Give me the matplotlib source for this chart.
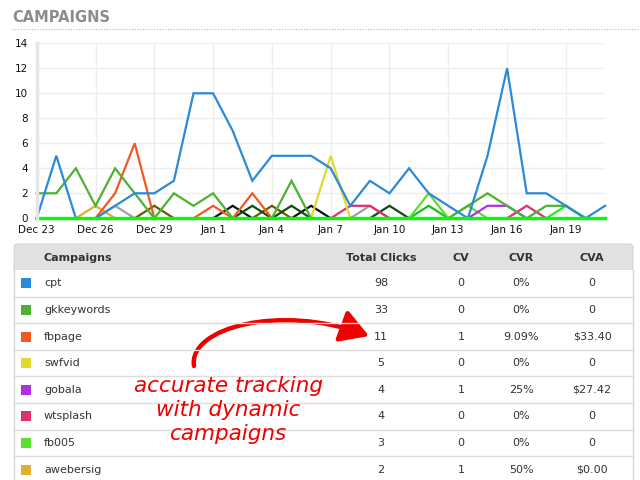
import matplotlib
matplotlib.use("Agg")
import matplotlib.pyplot as plt
from matplotlib.patches import FancyBboxPatch, Rectangle, FancyArrowPatch
from matplotlib.path import Path

# ---------------- data ----------------
days = list(range(30))  # Dec 23 .. Jan 21
tick_days = [0, 3, 6, 9, 12, 15, 18, 21, 24, 27]
tick_labels = ["Dec 23", "Dec 26", "Dec 29", "Jan 1", "Jan 4", "Jan 7",
               "Jan 10", "Jan 13", "Jan 16", "Jan 19"]
y_ticks = [0, 2, 4, 6, 8, 10, 12, 14]

cpt        = [0,5,0,0,1,2,2,3,10,10,7,3,5,5,5,4,1,3,2,4,2,1,0,5,12,2,2,1,0,1]
gkkeywords = [2,2,4,1,4,2,0,2,1,2,0,0,0,3,0,0,0,0,0,0,0,0,1,2,1,0,1,1,0,0]
fbpage     = [0,0,0,0,2,6,0,0,0,1,0,2,0,0,0,0,0,0,0,0,0,0,0,0,0,0,0,0,0,0]
swfvid     = [0,0,0,0,0,0,0,0,0,0,0,0,0,0,0,5,0,0,0,0,0,0,0,0,0,0,0,0,0,0]
gobala     = [0,0,0,0,0,0,0,0,0,0,0,0,0,0,0,0,0,0,0,0,0,0,0,1,1,0,0,0,0,0]
wtsplash   = [0,0,0,0,0,0,0,0,0,0,0,0,0,0,0,0,1,1,0,0,0,0,0,0,0,1,0,0,0,0]
fb005      = [0,0,0,0,0,0,0,0,0,0,0,0,0,0,0,0,0,0,0,0,2,0,1,0,0,0,0,0,0,0]
awebersig  = [0,0,0,1,0,0,0,0,0,0,0,0,0,0,0,0,0,0,0,0,0,0,0,0,0,0,0,0,0,0]
gray_s     = [0,0,0,0,1,0,0,0,0,0,0,0,0,0,0,0,0,1,0,0,0,0,0,0,0,0,0,0,0,0]
olive_s    = [0,0,0,0,0,0,1,0,0,0,0,0,1,0,0,0,0,0,0,0,0,0,0,0,0,0,0,0,0,0]
black_s    = [0,0,0,0,0,0,0,0,0,0,1,0,0,0,1,0,0,0,0,0,0,0,0,0,0,0,0,0,0,0]
dkgreen_s  = [0,0,0,0,0,0,0,0,0,0,0,1,0,1,0,0,0,0,1,0,0,0,0,0,0,0,0,0,0,0]
midgreen_s = [0,0,0,0,0,0,0,0,0,0,0,0,0,0,0,0,0,0,0,0,1,0,0,0,0,0,0,0,0,0]
bright_s   = [0,0,0,0,0,0,0,0,0,0,0,0,0,0,0,0,0,0,0,0,0,0,0,0,0,0,0,1,0,0]
base_s     = [0]*30

campaigns    = ["cpt", "gkkeywords", "fbpage", "swfvid", "gobala", "wtsplash", "fb005", "awebersig"]
total_clicks = ["98", "33", "11", "5", "4", "4", "3", "2"]
cv_vals      = ["0", "0", "1", "0", "1", "0", "0", "1"]
cvr_vals     = ["0%", "0%", "9.09%", "0%", "25%", "0%", "0%", "50%"]
cva_vals     = ["0", "0", "$33.40", "0", "$27.42", "0", "0", "$0.00"]
campaign_colors = ["#2a8ad8", "#4db232", "#f05a22", "#e2d82e",
                   "#b22ee0", "#e02e72", "#5ae02e", "#e2ae2e"]

series = [
    (gray_s, "#a0a0a0"), (olive_s, "#6b5a00"), (black_s, "#111111"),
    (dkgreen_s, "#0d4d0d"), (midgreen_s, "#18c018"), (bright_s, "#22ee22"),
    (awebersig, campaign_colors[7]), (fb005, campaign_colors[6]),
    (wtsplash, campaign_colors[5]), (gobala, campaign_colors[4]),
    (swfvid, campaign_colors[3]), (fbpage, campaign_colors[2]),
    (gkkeywords, campaign_colors[1]), (cpt, campaign_colors[0]),
]

# ---------------- figure ----------------
W, H = 640, 480
fig = plt.figure(figsize=(6.4, 4.8), dpi=100)
fig.patch.set_facecolor("white")

def fx(px):
    return px / W

def fy(py):
    return 1 - py / H

x0, x1 = 36.7, 605.1
y0, y1 = 218.3, 43.3
ax = fig.add_axes([fx(x0), fy(y0), fx(x1) - fx(x0), fy(y1) - fy(y0)])
ax.set_xlim(0, 29)
ax.set_ylim(0, 14)
for sp in ["top", "right", "bottom"]:
    ax.spines[sp].set_visible(False)
ax.spines["left"].set_color("#e6e6e6")
ax.spines["left"].set_linewidth(2.5)
ax.set_xticks(tick_days)
ax.set_xticklabels(tick_labels)
ax.set_yticks(y_ticks)
ax.tick_params(axis="x", length=3, color="#ececec", width=1, labelsize=7.5, pad=2, labelcolor="#111111")
ax.tick_params(axis="y", length=0, labelsize=7.5, pad=6, labelcolor="#111111")
ax.grid(True, color="#eeeeee", linewidth=1.0)
ax.set_axisbelow(True)

for vals, col in series:
    ax.plot(days, vals, color=col, linewidth=1.6, clip_on=False, solid_joinstyle="miter")
ax.plot(days, base_s, color="#00ff00", linewidth=2.4, clip_on=False)

# ---------------- overlay (title + table) ----------------
ov = fig.add_axes([0, 0, 1, 1], zorder=-1)
ov.set_xlim(0, W)
ov.set_ylim(H, 0)
ov.axis("off")

ov.text(12, 17, "CAMPAIGNS", fontsize=10.5, fontweight="bold", color="#8c8c8c",
        va="center", ha="left")
ov.plot([12, 640], [28.5, 28.5], color="#b5b5b5", linewidth=0.8, linestyle=(0, (1, 1.5)))

tl, tr = 14, 633
hdr_top, hdr_bot = 244, 270
row_h = 26.6
ov.add_patch(FancyBboxPatch((tl, hdr_top), tr - tl, hdr_bot - hdr_top + 4,
                            boxstyle="round,pad=0,rounding_size=4",
                            facecolor="#e1e1e1", edgecolor="#d6d6d6", linewidth=0.8))
ov.add_patch(Rectangle((tl, hdr_bot), tr - tl, H - hdr_bot, facecolor="white",
                       edgecolor="none"))
ov.plot([tl, tl], [hdr_bot, H], color="#d6d6d6", linewidth=1)
ov.plot([tr, tr], [hdr_bot, H], color="#d6d6d6", linewidth=1)

col_x = [381, 461, 521, 592]
hy = (hdr_top + hdr_bot) / 2 + 1
hdr_kw = dict(fontsize=8, fontweight="bold", color="#333333", va="center")
ov.text(44, hy, "Campaigns", ha="left", **hdr_kw)
for cx, lab in zip(col_x, ["Total Clicks", "CV", "CVR", "CVA"]):
    ov.text(cx, hy, lab, ha="center", **hdr_kw)

for i, name in enumerate(campaigns):
    top = hdr_bot + i * row_h
    cy = top + row_h / 2
    ov.plot([tl, tr], [top + row_h, top + row_h], color="#dcdcdc", linewidth=1)
    ov.add_patch(Rectangle((21, cy - 5), 10, 10, facecolor=campaign_colors[i], edgecolor="none"))
    kw = dict(fontsize=8, color="#333333", va="center")
    ov.text(44, cy, name, ha="left", **kw)
    for cx, v in zip(col_x, [total_clicks[i], cv_vals[i], cvr_vals[i], cva_vals[i]]):
        ov.text(cx, cy, v, ha="center", **kw)

# ---------------- annotation ----------------
red = "#ee0000"
for ty, line in zip([386, 410, 434], ["accurate tracking", "with dynamic", "campaigns"]):
    ov.text(228, ty, line, fontsize=15.5, color=red, style="italic", ha="center", va="center")
arrow_path = Path([(194, 366), (188, 328), (280, 303), (369, 336)],
                  [Path.MOVETO, Path.CURVE4, Path.CURVE4, Path.CURVE4])
arr = FancyArrowPatch(path=arrow_path, arrowstyle="-|>,head_length=17,head_width=10",
                      color=red, linewidth=3.2, mutation_scale=1)
ov.add_patch(arr)

fig.savefig("out.png", dpi=100)
